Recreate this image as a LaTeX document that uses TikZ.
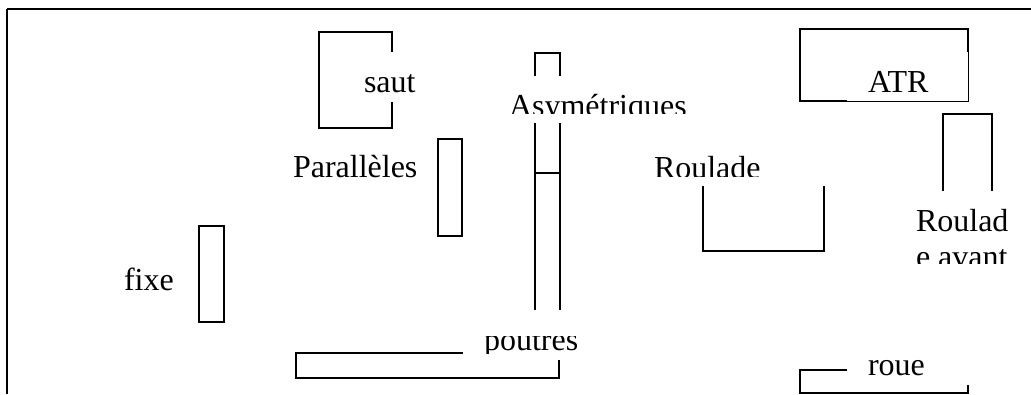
\documentclass[tikz,border=0pt]{standalone}
\usepackage{fontspec}
\setmainfont{Liberation Serif}
\tikzset{tag/.style={anchor=base west, inner sep=0pt, font=\fontsize{24}{28}\selectfont}}

\begin{document}
\begin{tikzpicture}[x=0.75pt, y=-0.75pt, line width=1.5pt]
\useasboundingbox (0,0) rectangle (1031,394);
% Frame
    \draw (7,9) -- (1031,9);
    \draw (7,9) -- (7,394);
% Saut
    \draw (392,52) -- (392,32) -- (319,32) -- (319,128) -- (392,128) -- (392,102);
    \node[tag] (saut) at (363,92) {saut};
% Asymetriques
    \draw (535,76) -- (535,53) -- (560,53) -- (560,76);
    \draw (535,123) -- (535,310);
    \draw (560,123) -- (560,310);
    \draw (535,173) -- (560,173);
    \begin{scope}
    \clip (480,80) rectangle (700,113);
    \node[tag] (asym) at (508,116) {Asymétriques};
    \end{scope}
% Paralleles
    \node[tag] (para) at (292,177) {Parallèles};
    \draw (438,139) rectangle (462,236);
% Fixe
    \node[tag] (fixe) at (123,290) {fixe};
    \draw (199,226) rectangle (224,322);
% Poutres
    \draw (463,353) -- (296,353) -- (296,378) -- (559,378) -- (559,360);
    \begin{scope}
    \clip (470,336) rectangle (600,353);
    \node[tag] (poutres) at (483,350) {poutres};
    \end{scope}
% Roulade
    \begin{scope}
    \clip (640,150) rectangle (780,176);
    \node[tag] (roulade) at (653,178) {Roulade};
    \end{scope}
    \draw (703,186) -- (703,251) -- (824,251) -- (824,186);
% ATR
    \draw (968,52) -- (968,29) -- (800,29) -- (800,101) -- (847,101);
    \draw[line width=0.75pt] (847,101) -- (968,101) -- (968,52);
    \node[tag] (atr) at (867,92) {ATR};
% Roulade avant
    \draw (943,191) -- (943,114) -- (992,114) -- (992,191);
    \node[tag] (roulad) at (915,231) {Roulad};
    \begin{scope}
    \clip (900,240) rectangle (1031,263);
    \node[tag] (avant) at (915,267) {e avant};
    \end{scope}
% Roue
    \draw (847,370) -- (800,370) -- (800,393) -- (968,393) -- (968,385);
    \node[tag] (roue) at (867,375) {roue};
\end{tikzpicture}
\end{document}
